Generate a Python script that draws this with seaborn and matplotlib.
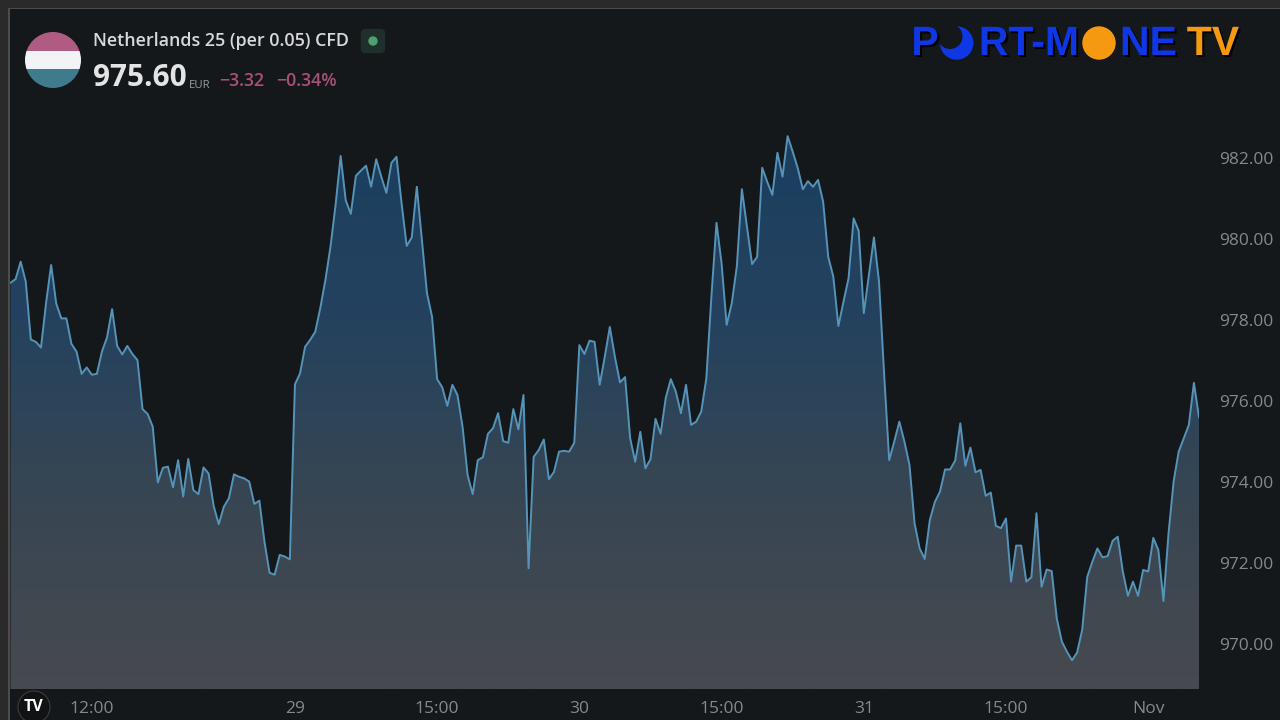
#!/usr/bin/python
# -*- coding: UTF8 -*-
import matplotlib
matplotlib.use('Agg')
import matplotlib.pyplot as plt
import matplotlib.patheffects as pe
from matplotlib.colors import LinearSegmentedColormap
from matplotlib.patches import Circle, FancyBboxPatch, Rectangle
import numpy as np
import pandas as pd
import seaborn as sns

# half hour closes
closes_1 = [978.92, 979.01, 979.44, 978.95, 977.52, 977.46, 977.32, 978.42, 979.36, 978.41,
            978.04, 978.04, 977.41, 977.22, 976.67, 976.83, 976.65, 976.67, 977.22, 977.57,
            978.27, 977.36, 977.15, 977.36, 977.16, 977.01, 975.80, 975.68, 975.37, 973.99,
            974.35, 974.38, 973.87, 974.54, 973.64, 974.57, 973.80, 973.70, 974.36, 974.21,
            973.41, 972.96, 973.39, 973.60, 974.19, 974.13, 974.09, 974.01, 973.46, 973.54,
            972.53, 971.76, 971.71, 972.20, 972.16, 972.09]
closes_2 = [976.41, 976.68, 977.34, 977.51, 977.71, 978.30, 978.99, 979.81, 980.84, 982.05,
            980.96, 980.62, 981.56, 981.69, 981.81, 981.29, 981.97, 981.54, 981.14, 981.88,
            982.03, 980.88, 979.83, 980.04, 981.29, 979.98, 978.66, 978.08, 976.54, 976.34,
            975.88, 976.40, 976.15, 975.37, 974.17, 973.70, 974.54, 974.61, 975.19, 975.33,
            975.70, 975.01, 974.97, 975.80, 975.30, 976.15, 971.87, 974.62, 974.79, 975.05,
            974.07, 974.25, 974.75, 974.77, 974.75, 974.97]
closes_3 = [977.38, 977.16, 977.49, 977.46, 976.40, 977.09, 977.83, 977.09, 976.46, 976.59,
            975.08, 974.50, 975.24, 974.34, 974.56, 975.56, 975.19, 976.07, 976.54, 976.23,
            975.70, 976.40, 975.41, 975.49, 975.74, 976.56, 978.58, 980.40, 979.40, 977.88,
            978.41, 979.32, 981.23, 980.30, 979.38, 979.56, 981.76, 981.41, 981.09, 982.13,
            981.54, 982.54, 982.16, 981.75, 981.23, 981.43, 981.29, 981.46, 980.92, 979.56,
            979.07, 977.85, 978.45, 979.03, 980.51, 980.20]
closes_4 = [978.17, 979.11, 980.04, 978.95, 976.68, 974.54, 975.00, 975.49, 975.00, 974.42,
            972.98, 972.36, 972.10, 973.06, 973.51, 973.76, 974.31, 974.31, 974.53, 975.45,
            974.40, 974.85, 974.24, 974.30, 973.66, 973.74, 972.92, 972.86, 973.10, 971.54,
            972.43, 972.43, 971.54, 971.65, 973.23, 971.41, 971.84, 971.80, 970.63, 970.06,
            969.81, 969.60, 969.79, 970.35, 971.66, 972.03, 972.36, 972.14, 972.17, 972.55,
            972.65, 971.79, 971.19, 971.54, 971.19, 971.83]
closes_5 = [971.79, 972.62, 972.32, 971.06, 972.73, 974.01, 974.75, 975.08, 975.41, 976.45,
            975.60]

time_ticks = [16, 56, 84, 112, 140, 168, 196, 224]
time_labels = ['12:00', '29', '15:00', '30', '15:00', '31', '15:00', 'Nov']
price_ticks = [970, 972, 974, 976, 978, 980, 982]

BG = '#15181b'
LABEL = '#85888c'
UI_FONT = ['Open Sans', 'DejaVu Sans']

sns.set_theme(style='dark')
plt.rcParams['font.family'] = UI_FONT

closes = closes_1 + closes_2 + closes_3 + closes_4 + closes_5
df = pd.DataFrame({'bar': np.arange(len(closes)), 'close': closes})

fig = plt.figure(figsize=(12.8, 7.2), dpi=100, facecolor=BG)
ax = fig.add_axes([10 / 1280, 31 / 720, 1189 / 1280, 680 / 720], facecolor=BG)

sns.lineplot(data=df, x='bar', y='close', color='#5594b8', linewidth=1.4,
             estimator=None, ax=ax, zorder=3)

y_low, y_high = 968.889, 985.68
area = ax.fill_between(df['bar'], df['close'], y_low, color='none', linewidth=0)
fade = LinearSegmentedColormap.from_list('fade', ['#1b3f60', '#24425e', '#384653', '#474a4f'])
image = ax.imshow(np.linspace(0, 1, 256).reshape(-1, 1), cmap=fade, aspect='auto',
                  extent=[-0.1, 234, y_low, 982.6], zorder=2)
image.set_clip_path(area.get_paths()[0], transform=ax.transData)

ax.set_xlim(-0.1, 234)
ax.set_ylim(y_low, y_high)
ax.set_xlabel('')
ax.set_ylabel('')
ax.grid(False)
for spine in ax.spines.values():
    spine.set_visible(False)

ax.set_xticks(time_ticks)
ax.set_xticklabels(time_labels)
ax.yaxis.tick_right()
ax.set_yticks(price_ticks)
ax.set_yticklabels(['%.2f' % p for p in price_ticks])
ax.tick_params(axis='x', length=0, pad=8.7, labelsize=12.5, labelcolor=LABEL)
ax.tick_params(axis='y', length=0, pad=14.5, labelsize=12.5, labelcolor=LABEL)

# overlay in screen pixels for the header, logo and window frame
top = fig.add_axes([0, 0, 1, 1], facecolor='none')
top.set_xlim(0, 1280)
top.set_ylim(720, 0)
top.axis('off')

top.add_patch(Rectangle((0, 0), 1280, 8, color='#2a2a2a', lw=0))
top.add_patch(Rectangle((0, 0), 8, 720, color='#2a2a2a', lw=0))
top.add_patch(Rectangle((8, 8), 1272, 1.3, color='#4c4c4c', lw=0))
top.add_patch(Rectangle((8, 8), 1.6, 712, color='#4c4c4c', lw=0))

# flag
flag = Circle((53, 60), 28, transform=top.transData)
for y0, h, col in [(32, 19, '#b05c82'), (51, 18, '#f1f3f6'), (69, 19, '#3f7b8c')]:
    stripe = Rectangle((25, y0), 56, h, color=col, lw=0)
    top.add_patch(stripe)
    stripe.set_clip_path(flag)

top.text(93, 41.5, 'Netherlands 25 (per 0.05) CFD', color='#d6d8da', fontsize=12.9,
         weight=600, va='center', ha='left')
top.add_patch(FancyBboxPatch((365, 33), 16, 16, boxstyle='round,pad=0,rounding_size=0', lw=6,
                             ec='#1f2f2b', fc='#1f2f2b', joinstyle='round'))
top.add_patch(Circle((373, 41), 4.7, color='#4f9e6f', lw=0))
top.text(93, 78.5, '975.60', color='#e2e4e6', fontsize=21.4, weight='bold', va='center', ha='left')
top.text(189, 85, 'EUR', color='#9a9da0', fontsize=8.2, va='center', ha='left')
top.text(219, 81.5, '\u22123.32', color='#a84f7a', fontsize=12.8, weight=600, va='center', ha='left')
top.text(276, 81.5, '\u22120.34%', color='#a84f7a', fontsize=12.8, weight=600, va='center', ha='left')

# logo
BLUE = '#0f37e6'
ORANGE = '#f59a10'
shadow = [pe.withSimplePatchShadow(offset=(1.5, -1.5), shadow_rgbFace='black', alpha=1)]
for label, x, col in [('P', 925, BLUE), ('RT-M', 1029, BLUE), ('NE', 1148.5, BLUE), ('TV', 1213, ORANGE)]:
    top.text(x, 44, label, color=col, fontsize=29.5, weight='bold', family=['Liberation Sans'],
             ha='center', va='center', path_effects=shadow)
top.add_patch(Circle((956.7, 43), 16.7, color=BLUE, lw=0))
top.add_patch(Circle((950, 36.5), 12.5, color=BG, lw=0))
top.add_patch(Circle((1099, 43), 16.7, color=ORANGE, lw=0))

# chart maker's badge
top.add_patch(Circle((34, 707), 16, fc='#101214', ec='#3a3c3f', lw=0.8))
top.text(34, 707, 'TV', color='white', fontsize=11.5, weight='bold', ha='center', va='center')

fig.savefig('out.png', dpi=100, facecolor=BG)
plt.close('all')
